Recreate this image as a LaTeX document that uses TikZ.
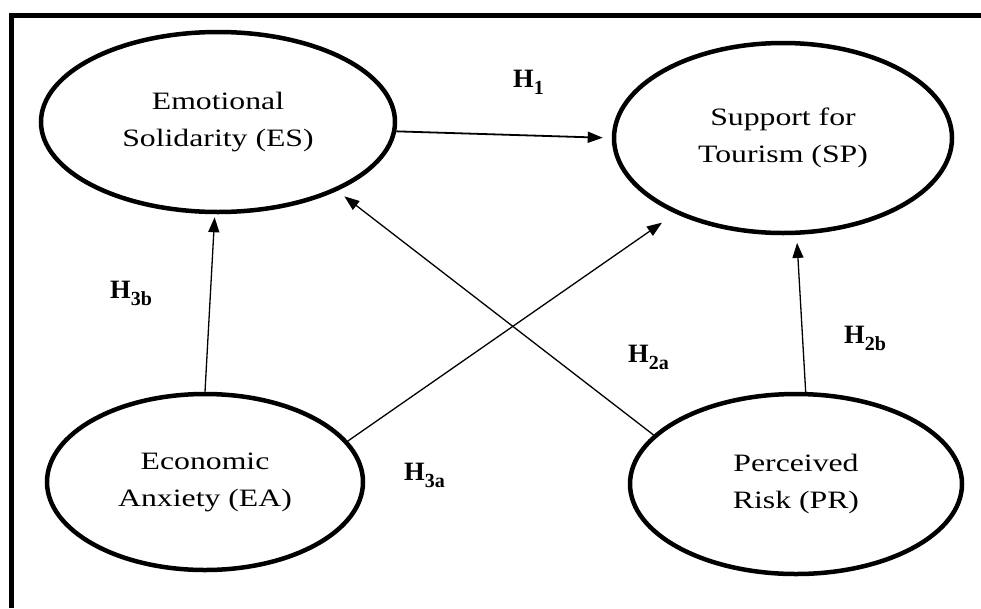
\documentclass[tikz,border=0pt]{standalone}
\usepackage{fontspec}
\setmainfont{Liberation Serif}
\newfontfamily\bodyfont{Liberation Serif}[FakeStretch=1.27]
\usetikzlibrary{shapes.geometric,arrows.meta}
\newcommand{\hsub}[1]{\raisebox{-7pt}{\fontsize{20}{20}\selectfont #1}}
\begin{document}
\begin{tikzpicture}[x=1pt,y=-1pt,
  latent/.style={ellipse,draw,line width=4.5pt,align=center,
    font=\bodyfont\fontsize{25}{37}\selectfont,inner sep=0pt},
  hpath/.style={line width=1.3pt,-{Triangle[length=15pt,width=11pt]}},
  hyp/.style={font=\fontsize{26.5}{30}\selectfont\bfseries,inner sep=0pt,anchor=base west}]
\useasboundingbox (0,0) rectangle (981,608);
\fill[white] (0,0) rectangle (981,608);
\draw[line width=5pt] (11,608) -- (11,15.5) -- (981,15.5);

\node[latent,minimum width=354pt,minimum height=180pt] (es) at (218,122) {Emotional\\Solidarity (ES)};
\node[latent,minimum width=338pt,minimum height=190pt] (sp) at (783,138) {Support for\\Tourism (SP)};
\node[latent,minimum width=316pt,minimum height=176pt] (ea) at (205,482) {Economic\\Anxiety (EA)};
\node[latent,minimum width=332pt,minimum height=180pt] (pr) at (796,484) {Perceived\\Risk (PR)};

\draw[hpath,line width=1.8pt,shorten >=9pt] (es.-3) -- (sp.180);
\draw[hpath,shorten >=3pt] (ea.90) -- (es.-92);
\draw[hpath,shorten >=16pt] (ea.16) -- (sp.215);
\draw[hpath,shorten >=9pt] (pr.161) -- (es.-30);
\draw[hpath,shorten >=8pt] (pr.84) -- (sp.-82);

\node[hyp] (h1) at (513,87) {H\hsub{1}};
\node[hyp] (h3b) at (110,298) {H\hsub{3b}};
\node[hyp] (h2a) at (628,362) {H\hsub{2a}};
\node[hyp] (h2b) at (844,343) {H\hsub{2b}};
\node[hyp] (h3a) at (404,480) {H\hsub{3a}};
\end{tikzpicture}
\end{document}
